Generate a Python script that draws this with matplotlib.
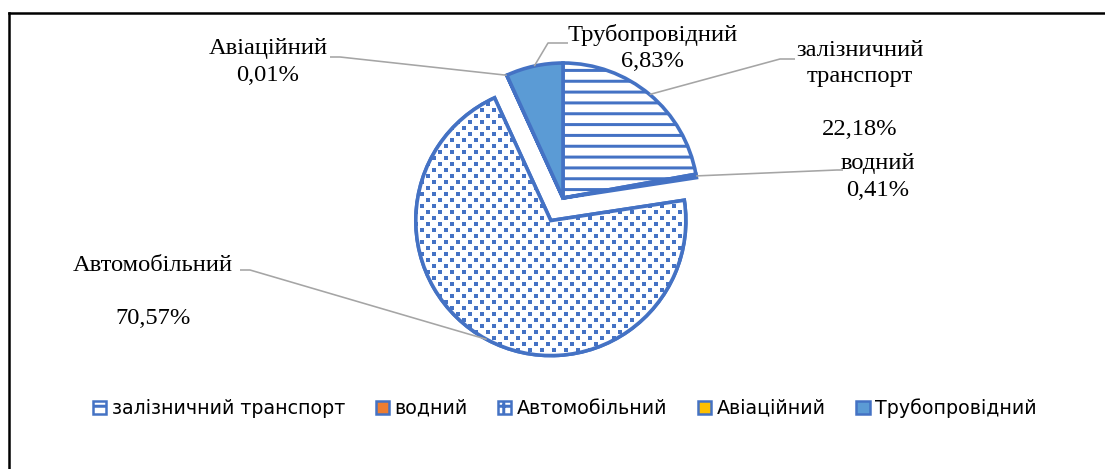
import numpy as np
import matplotlib.pyplot as plt
from matplotlib.patches import Patch, Wedge
from matplotlib.lines import Line2D

# дані з діаграми (частка видів транспорту, %)
labels = ['залізничний транспорт', 'водний', 'Автомобільний', 'Авіаційний', 'Трубопровідний']
shares = [22.18, 0.41, 70.57, 0.01, 6.83]
pct_text = ['22,18%', '0,41%', '70,57%', '0,01%', '6,83%']
label_text = ['залізничний\nтранспорт\n\n' + pct_text[0],
              'водний\n' + pct_text[1],
              'Автомобільний\n\n' + pct_text[2],
              'Авіаційний\n' + pct_text[3],
              'Трубопровідний\n' + pct_text[4]]

W, H, DPI = 1105, 469, 130
BLUE = '#4472C4'
fills = ['white', '#ED7D31', 'white', '#FFC000', '#5B9BD5']
hatches = ['--', None, None, None, None]
R = 135


def px(v):
    return v * 72 / DPI


plt.rcParams['hatch.linewidth'] = px(3.0)

fig = plt.figure(figsize=(W / DPI, H / DPI), dpi=DPI)
ax = fig.add_axes([0, 0, 1, 1])

# explode у pie задається в одиницях даних, тому множимо на радіус
wedges, _ = ax.pie(shares, center=(563, H - 198), radius=R, startangle=90,
                   counterclock=False, explode=[0, 0, 0.19 * R, 0, 0],
                   colors=fills, hatch=hatches,
                   wedgeprops=dict(edgecolor=BLUE, linewidth=px(3.6)))

# текстура "конфеті" для автомобільного сектора
T = 12
tile = np.zeros((T, T), dtype=bool)
tile[0:4, 0:4] = True
tile[6:10, 6:10] = True
mask = np.tile(tile, (H // T + 1, W // T + 1))[:H, :W]
img = np.ones((H, W, 3))
img[mask] = [0x44 / 255, 0x72 / 255, 0xC4 / 255]
auto = wedges[2]
im = ax.imshow(img, extent=(0, W, 0, H), origin='upper', interpolation='nearest', zorder=1.5)
im.set_clip_path(auto)
ax.add_patch(Wedge(auto.center, auto.r, auto.theta1, auto.theta2, fill=False,
                   edgecolor=BLUE, linewidth=px(3.6), zorder=2))
ax.set_xlim(0, W)
ax.set_ylim(0, H)
ax.set_aspect('auto')
ax.axis('off')

# підписи з виносками
text_pos = [(860, 90), (878, 177), (153, 292), (268, 62), (653, 48)]
elbows = [((780, 59), (795, 59)), ((837, 170), (843, 170)), ((250, 270), (240, 270)),
          ((340, 57), (330, 57)), ((548, 43), (568, 43))]
for w, txt, (tx, ty), (e1, e2) in zip(wedges, label_text, text_pos, elbows):
    mid = np.deg2rad((w.theta1 + w.theta2) / 2)
    ax0 = w.center[0] + w.r * np.cos(mid)
    ay0 = w.center[1] + w.r * np.sin(mid)
    ax.plot([ax0, e1[0], e2[0]], [ay0, H - e1[1], H - e2[1]], color='#A5A5A5',
            linewidth=px(1.6), zorder=3, solid_capstyle='butt')
    ax.text(tx, H - ty, txt, ha='center', va='center', multialignment='center',
            fontsize=px(24.5), family='Liberation Serif', linespacing=1.32)

# легенда
handles = [Patch(facecolor=f, edgecolor=BLUE, linewidth=px(2.5), hatch=h)
           for f, h in zip(fills, ['--', None, '++', None, None])]
fig.legend(handles, labels, loc='center', bbox_to_anchor=(565 / W, 1 - 408 / H),
           ncol=5, frameon=False, prop=dict(family='DejaVu Sans', size=px(19)),
           handlelength=0.7, handleheight=0.7, handletextpad=0.3, columnspacing=1.6)

# рамка
fig.add_artist(Line2D([8.5 / W, 8.5 / W], [0, 1 - 12.5 / H], transform=fig.transFigure,
                      color='black', linewidth=px(2.5)))
fig.add_artist(Line2D([8.5 / W, 1], [1 - 12.5 / H, 1 - 12.5 / H], transform=fig.transFigure,
                      color='black', linewidth=px(2.5)))

fig.savefig('out.png', dpi=DPI)
